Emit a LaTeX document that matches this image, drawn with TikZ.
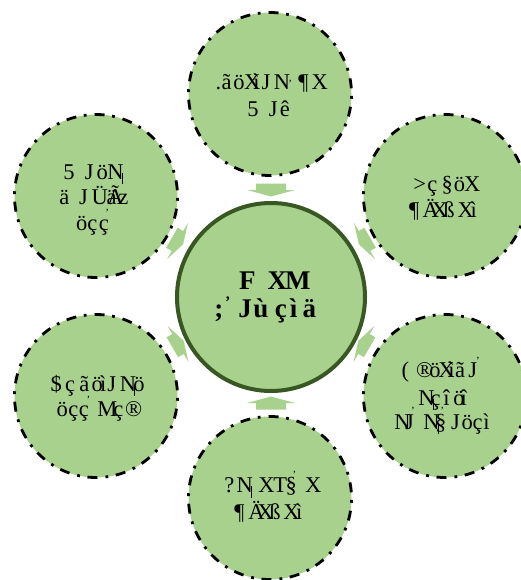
\documentclass[tikz,border=0pt]{standalone}
\usepackage{fontspec}
\setmainfont{Liberation Serif}
\definecolor{leaf}{HTML}{A9D18E}
\definecolor{rim}{HTML}{385723}
\def\zc{0}
\newcommand\gly[2]{\rlap{\kern\dimexpr(#1pt-\zc pt)/3\relax #2}}
\newcommand\row[2]{\rlap{\raisebox{\dimexpr(\zy pt-#1pt)/3\relax}{#2}}}
\newcommand\hk[2]{\row{#2}{\gly{#1}{\fontsize{11}{11}\selectfont ʼ}}}
\newcommand\zero[3]{\def\zc{#1}\def\zy{#2}\smash{#3}}
\newcommand\NH{N\kern-0.085em\rule[-0.22em]{0.04em}{0.5em}}
\newcommand\blockarrow[5]{\fill[leaf,shift={(#1,#2)},rotate=#3]
  (-6.5,#5) -- (0,#5) -- (0,#4) -- (6.5,0) -- (0,-#4) -- (0,-#5) -- (-6.5,-#5) -- cycle;}
\tikzset{
 x=1pt,y=-1pt,
 topic/.style={circle,fill=leaf,draw=black,line width=2.8pt,minimum size=163pt,inner sep=0pt,
   dash pattern=on 10pt off 8pt on 2.8pt off 7.65pt,dash phase=22.75pt,font=\fontsize{22.5}{22.5}\selectfont},
 hub/.style={circle,fill=leaf,draw=rim,line width=4pt,minimum size=188pt,inner sep=0pt,
   font=\fontsize{27}{27}\selectfont\bfseries},
}
\begin{document}
\begin{tikzpicture}
\useasboundingbox (0,0) rectangle (520,580);
\blockarrow{271}{190}{-90}{24}{15}
\blockarrow{271}{403}{90}{24}{15}
\blockarrow{177.5}{241}{-30}{21}{11.5}
\blockarrow{364.5}{241}{210}{21}{11.5}
\blockarrow{178}{344}{30}{21}{11.5}
\blockarrow{364}{344}{150}{21}{11.5}

\node[topic] (top) at (270,94) {\zero{300}{282}{%
 \row{270}{\gly{137}{.}\gly{155}{ã}\gly{190}{ö}\gly{222}{X}\gly{250}{ì}\gly{275}{J}\gly{312}{N}\gly{385}{¶}\gly{425}{X}}%
 \hk{355}{262}%
 \row{350}{\gly{232}{5}\gly{297}{J}\gly{330}{ê}}}};

\node[topic] (ul) at (96,196) {\zero{288}{258}{%
 \row{207}{\gly{190}{5}\gly{255}{J}\gly{290}{ö}\gly{322}{\NH}}%
 \row{285}{\gly{178}{ä}\gly{237}{J}\gly{275}{Ü}\gly{320}{ä}\gly{322}{Ã}\gly{355}{z}}%
 \hk{316}{318}%
 \row{360}{\gly{228}{ö}\gly{262}{ç}\gly{297}{ç}}}};

\node[topic] (ur) at (445,196) {\zero{315}{258}{%
 \row{243}{\gly{220}{>}\gly{262}{ç}\gly{305}{§}\gly{342}{ö}\gly{372}{X}}%
 \row{322}{\gly{207}{¶}\gly{248}{Ä}\gly{275}{X}\gly{310}{ß}\gly{353}{X}\gly{392}{ì}}}};

\node[topic] (ll) at (96,396) {\zero{288}{258}{%
 \row{243}{\gly{152}{\$}\gly{195}{ç}\gly{238}{ã}\gly{275}{ö}\gly{300}{ì}\gly{322}{J}\gly{360}{\NH}\gly{400}{ö}}%
 \hk{260}{280}%
 \row{320}{\gly{170}{ö}\gly{205}{ç}\gly{237}{ç}\gly{292}{M}\gly{340}{ç}\gly{375}{®}}}};

\node[topic] (lr) at (445,396) {\zero{315}{258}{%
 \row{203}{\gly{185}{(}\gly{228}{®}\gly{268}{ö}\gly{295}{X}\gly{325}{ì}\gly{345}{ã}\gly{385}{J}}%
 \hk{408}{163}%
 \row{285}{\gly{235}{\NH}\gly{272}{ç}\gly{310}{î}\gly{340}{ö}\gly{362}{î}}%
 \row{357}{\gly{163}{N}\gly{195}{J}\gly{250}{\NH}\gly{285}{§}\gly{333}{J}\gly{365}{ö}\gly{398}{ç}\gly{430}{ì}}%
 \hk{213}{313}\hk{301}{313}}};

\node[topic] (bot) at (270,498) {\zero{300}{324}{%
 \row{308}{\gly{163}{?}\gly{200}{\NH}\gly{265}{X}\gly{310}{T}\gly{347}{§}\gly{405}{X}}%
 \hk{368}{266}%
 \row{387}{\gly{193}{¶}\gly{235}{Ä}\gly{262}{X}\gly{298}{ß}\gly{340}{X}\gly{378}{ì}}}};

\node[hub] (hub) at (271,297) {\zero{303}{321}{%
 \row{298}{\gly{207}{F}\gly{293}{X}\gly{345}{M}}%
 \row{382}{\gly{133}{;}\gly{165}{\raisebox{10pt}{\fontsize{16}{16}\selectfont ʼ}}\gly{205}{J}\gly{250}{ù}\gly{315}{ç}\gly{360}{ì}\gly{398}{ä}}}};
\end{tikzpicture}
\end{document}
